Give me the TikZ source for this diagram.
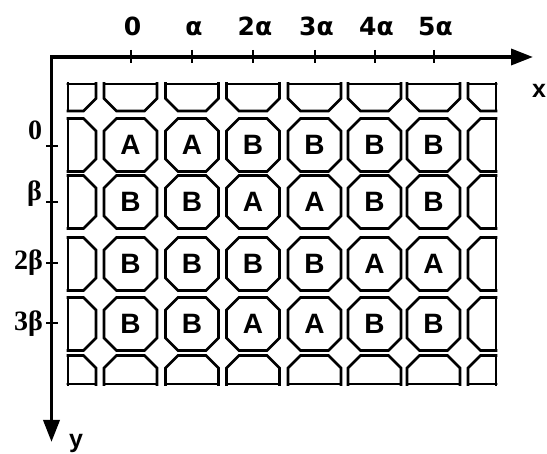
\documentclass[tikz,border=0pt]{standalone}
\usepackage{fontspec}
\setmainfont{Liberation Serif}
\setsansfont{Liberation Sans}
\newfontfamily\topfont{DejaVu Sans}
\usetikzlibrary{arrows.meta}
\tikzset{every node/.append style={inner sep=0pt, outer sep=0pt},
  cell/.style={line width=2.8pt, line join=miter},
  axisline/.style={line width=3.6pt, line join=miter},
  tickmark/.style={line width=2pt},
  letter/.style={font=\sffamily\bfseries\fontsize{28}{28}\selectfont},
  toplabel/.style={font=\topfont\bfseries\fontsize{25}{25}\selectfont, anchor=base},
  sidelabel/.style={font=\rmfamily\bfseries\fontsize{28}{28}\selectfont, anchor=base east},
  axislabel/.style={font=\sffamily\bfseries\fontsize{25}{25}\selectfont, anchor=base west}}
% octagon round (#1,#2), half size 26.5, flat half 14
\newcommand{\octo}[2]{(#1-26.5,#2-14) -- (#1-26.5,#2+14) -- (#1-14,#2+26.5) -- (#1+14,#2+26.5)
  -- (#1+26.5,#2+14) -- (#1+26.5,#2-14) -- (#1+14,#2-26.5) -- (#1-14,#2-26.5) -- cycle}

\begin{document}
\begin{tikzpicture}[x=1pt, y=-1pt, >={Triangle[length=22pt, width=16pt]}]
    \useasboundingbox (0,0) rectangle (547,454);
    % cells, cut at the frame
    \begin{scope}
        \clip (66.6,82.6) rectangle (497.4,385.4);
        \foreach \cy in {84.5,145,202,264,324,382}
            \foreach \cx in {69.5,130.5,192,253,314.5,374.5,433.5,494.5}
                \draw[cell] \octo{\cx}{\cy};
        \foreach \cx in {69.5,130.5,192,253,314.5,374.5,433.5,494.5} {
            \draw[cell] (\cx-26.5,84) -- (\cx+26.5,84);
            \draw[cell] (\cx-26.5,384) -- (\cx+26.5,384);
        }
        \foreach \cy in {84.5,145,202,264,324,382} {
            \draw[cell] (68,\cy-26.5) -- (68,\cy+26.5);
            \draw[cell] (496,\cy-26.5) -- (496,\cy+26.5);
        }
    \end{scope}
    \foreach \cy/\row [count=\j] in {145/{A,A,B,B,B,B}, 202/{B,B,A,A,B,B},
                                     264/{B,B,B,B,A,A}, 324/{B,B,A,A,B,B}}
        \foreach \t [count=\i] in \row {
            \pgfmathsetmacro{\cx}{{130.5,192,253,314.5,374.5,433.5}[\i-1]}
            \node[letter] (cell-\j-\i) at (\cx,\cy) {\t};
        }
    % axes
    \coordinate (O) at (51.5,57);
    \coordinate (xtip) at (533,57);
    \coordinate (ytip) at (51.5,442);
    \draw[axisline, <->] (xtip) -- (O) -- (ytip);
    \foreach \cx/\lab in {130.5/0, 192/α, 253/2α, 314.5/3α, 374.5/4α, 433.5/5α} {
        \draw[tickmark] (\cx,50) -- (\cx,63);
        \node[toplabel] at (\cx+2,36) {\lab};
    }
    \foreach \cy in {146,202,263,323}
        \draw[tickmark] (46,\cy) -- (58,\cy);
    \node[sidelabel] (ly0) at (42,140) {0};
    \node[sidelabel] (ly1) at (42,201) {β};
    \node[sidelabel] (ly2) at (43,270) {2β};
    \node[sidelabel] (ly3) at (43,331) {3β};
    \node[axislabel] (xlab) at (532,98) {x};
    \node[axislabel] (ylab) at (69,448) {y};
\end{tikzpicture}
\end{document}
